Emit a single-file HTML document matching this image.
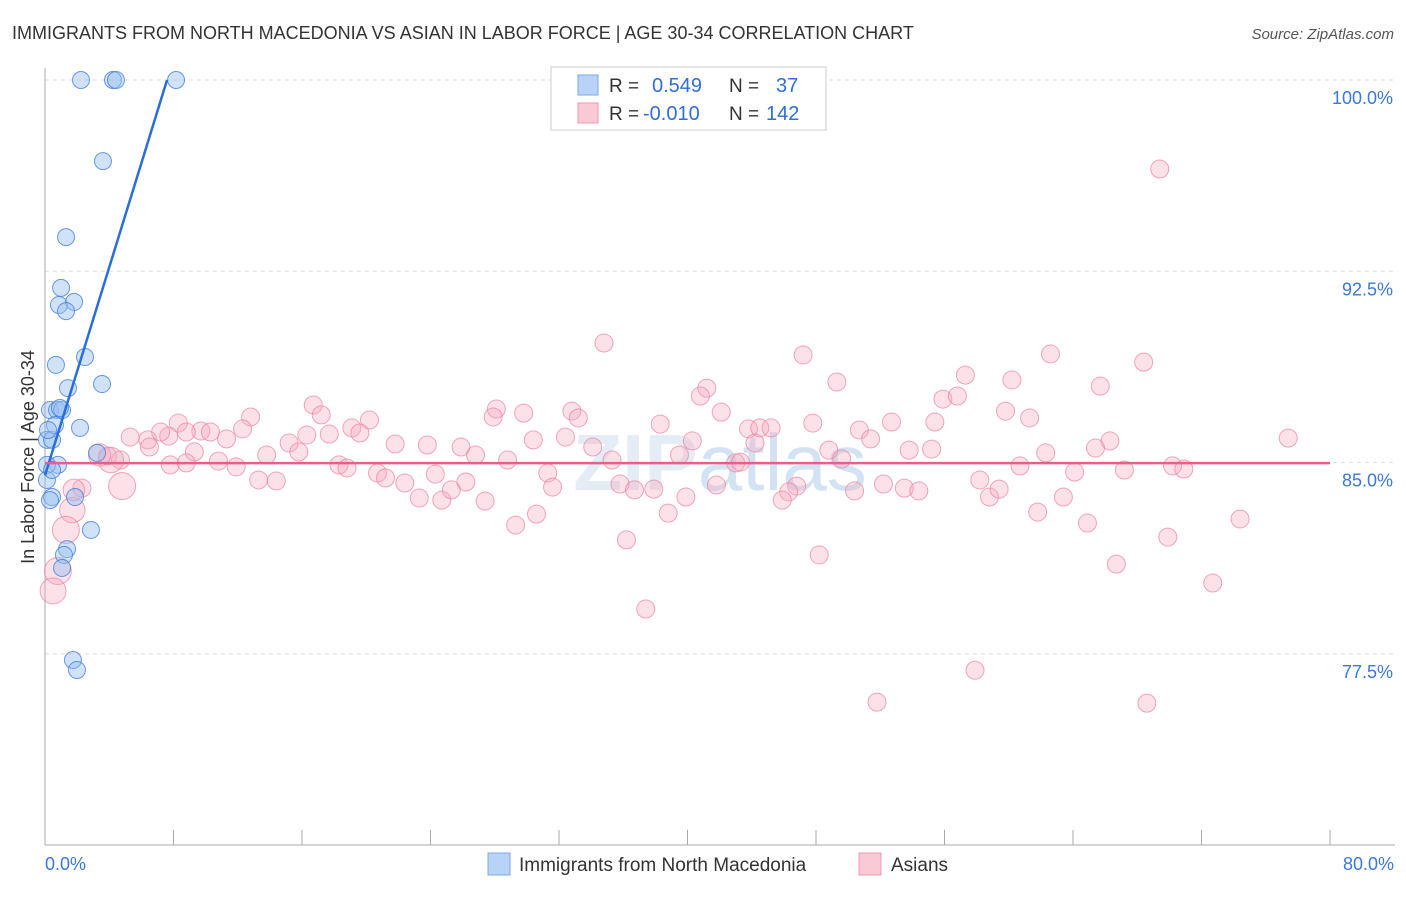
<!DOCTYPE html>
<html><head><meta charset="utf-8"><style>
body{margin:0;background:#fff;font-family:"Liberation Sans",sans-serif;}
svg text{font-family:"Liberation Sans",sans-serif;}
</style></head><body>
<svg id="chart" width="1406" height="892" xmlns="http://www.w3.org/2000/svg">
<text x="12" y="39" font-size="18" fill="#333">IMMIGRANTS FROM NORTH MACEDONIA VS ASIAN IN LABOR FORCE | AGE 30-34 CORRELATION CHART</text>
<text x="1394" y="39" font-size="15" fill="#555" text-anchor="end" font-style="italic">Source: ZipAtlas.com</text>
<text x="720" y="490" font-size="80" fill="#e4ecf5" text-anchor="middle" font-weight="bold">ZIP<tspan fill="#d4e3f3" font-weight="normal">atlas</tspan></text>
<g id="grid"></g>
<g id="axes"></g>
<g id="pink"></g>
<g id="blue"></g>
<g id="lines"></g>
<g>
<rect x="551" y="67" width="275" height="63" fill="#fff" stroke="#ccc"/>
<rect x="578" y="75" width="20" height="20" fill="#b8d3f5" stroke="#7aa8e6"/>
<rect x="578" y="103" width="20" height="20" fill="#f9c9d6" stroke="#ef9bb3"/>
<text x="609" y="92" font-size="19" fill="#333">R = </text><text x="652" y="92" font-size="20" fill="#2f6fd6">0.549</text>
<text x="729" y="92" font-size="19" fill="#333">N = </text><text x="776" y="92" font-size="20" fill="#2f6fd6">37</text>
<text x="609" y="120" font-size="19" fill="#333">R = </text><text x="643" y="120" font-size="20" fill="#2f6fd6">-0.010</text>
<text x="729" y="120" font-size="19" fill="#333">N = </text><text x="766" y="120" font-size="20" fill="#2f6fd6">142</text>
</g>
<g>
<rect x="488" y="853" width="22" height="22" fill="#b8d3f5" stroke="#7aa8e6"/>
<text x="519" y="871" font-size="19" fill="#333">Immigrants from North Macedonia</text>
<rect x="859" y="853" width="22" height="22" fill="#f9c9d6" stroke="#ef9bb3"/>
<text x="891" y="871" font-size="19" fill="#333">Asians</text>
</g>
<text transform="translate(34,457) rotate(-90)" font-size="18" fill="#333" text-anchor="middle">In Labor Force | Age 30-34</text>
</svg>
<script>
const yTicks=[100,92.5,85,77.5];
const yTickLabels=["100.0%","92.5%","85.0%","77.5%"];
const xTickLabels=["0.0%","80.0%"];
const blueX=[2.24,4.23,4.42,8.16,3.61,1.31,1.00,0.87,1.81,1.31,0.68,2.49,1.43,3.55,0.31,0.75,1.06,0.12,0.44,2.18,0.81,0.12,0.44,0.12,3.24,1.87,2.86,1.37,1.18,1.06,1.74,1.99,0.44,0.62,0.19,0.93,0.31];
const blueY=[100,100,100,100,96.82,93.84,91.85,91.18,91.30,90.94,88.83,89.14,87.92,88.08,87.06,87.06,87.06,85.89,85.89,86.36,84.91,84.91,83.65,84.32,85.38,83.65,82.36,81.61,81.38,80.87,77.26,76.87,84.71,86.47,86.28,87.14,83.53];
const pinkX=[69.4,34.8,62.6,47.2,68.4,49.3,57.3,41.2,60.2,65.7,40.8,55.9,56.8,16.7,28.1,17.2,29.8,32.8,42.1,12.8,8.3,20.2,27.9,59.8,33.2,38.3,47.8,52.7,61.3,19.1,9.7,10.3,12.3,16.3,17.7,19.6,43.8,44.5,45.2,50.7,55.4,77.4,5.3,6.4,7.7,8.8,11.3,15.2,21.8,23.8,30.4,32.4,34.1,40.3,44.2,51.4,66.3,53.8,55.2,65.4,62.3,25.9,26.8,15.8,13.8,9.3,3.9,4.7,7.8,8.8,10.8,11.9,18.3,18.8,28.8,35.3,39.5,48.8,49.6,43.0,43.3,60.7,64.1,67.2,70.2,70.9,20.7,21.2,22.4,24.3,26.2,31.3,31.6,35.8,36.7,37.9,39.9,41.8,46.8,46.3,45.9,50.4,52.2,53.5,54.4,58.2,58.8,59.4,63.4,23.3,24.7,25.3,27.4,30.6,29.3,38.8,61.8,64.9,74.4,36.2,69.9,48.2,66.7,72.7,37.4,57.9,51.8,68.6,13.3,14.4,6.5,7.2,2.3,1.7,1.3,0.8,0.5,4.8,1.8,4.1,3.4];
const pinkY=[96.51,89.69,89.26,89.22,88.94,88.16,88.43,87.92,88.24,88.0,87.61,87.49,87.61,87.26,87.1,86.87,86.94,87.02,86.98,86.79,86.55,86.67,86.79,87.02,86.75,86.51,86.55,86.59,86.75,86.36,86.24,86.20,86.32,86.08,86.12,86.16,86.32,86.36,86.36,86.28,86.59,85.96,86.00,85.89,86.04,86.20,85.93,85.77,85.73,85.69,85.89,86.00,85.61,85.85,85.77,85.93,85.85,85.49,85.53,85.57,85.38,85.61,85.30,85.42,85.30,85.42,85.26,85.10,84.91,84.99,85.06,84.83,84.91,84.79,85.10,85.10,85.30,85.49,85.14,84.99,85.02,84.87,84.63,84.71,84.87,84.75,84.59,84.40,84.20,84.55,84.24,84.59,84.04,84.16,83.93,83.96,83.65,84.12,84.08,83.85,83.53,83.89,84.16,84.00,83.89,84.32,83.65,83.96,83.65,83.61,83.53,83.93,83.49,82.98,82.55,83.02,83.06,82.63,82.79,81.97,82.08,81.38,81.02,80.28,79.26,76.86,75.61,75.57,84.32,84.28,85.61,86.20,84.00,83.14,82.36,80.75,79.97,84.08,83.93,85.10,85.30];
const pinkWeight=[];for(let i=0;i<pinkX.length;i++)pinkWeight.push(1);
[[133,2.2],[134,2.5],[135,2.5],[136,2.3],[137,2.5],[138,1.6],[139,2.2],[140,1.7],[141,1.5]].forEach(a=>pinkWeight[a[0]]=a[1]);
const blueFit=[84.5,2.04,0,7.6];
const pinkFit=[84.98,0,0,80];
const X=v=>45+v/80*1285, Y=v=>80+(100-v)/7.5*191.3;
const NS="http://www.w3.org/2000/svg";
function mk(t,p,parent){const e=document.createElementNS(NS,t);for(const k in p)e.setAttribute(k,p[k]);document.getElementById(parent).appendChild(e);return e;}
yTicks.forEach((v,i)=>{
 const g=mk('line',{x1:45,x2:1395,y1:Y(v),y2:Y(v),stroke:'#ddd','stroke-dasharray':'4,4'},'grid');
 
 
 const t=mk('text',{x:1393,y:Y(v)+24,'font-size':18,fill:'#3b78d8','text-anchor':'end'},'axes');
 t.textContent=yTickLabels[i];
 
 
});
let a=mk('line',{x1:45,x2:45,y1:68,y2:845,stroke:'#aaa'},'axes');


a=mk('line',{x1:45,x2:1395,y1:845,y2:845,stroke:'#aaa'},'axes');


for(let i=0;i<=10;i++){const t=mk('line',{x1:X(i*8),x2:X(i*8),y1:830,y2:845,stroke:'#aaa'},'axes');
 
 }
[[0,'start',45],[80,'end',1394]].forEach((d,i)=>{const t=mk('text',{x:d[2],y:870,'font-size':18,fill:'#3b78d8','text-anchor':d[1]},'axes');t.textContent=xTickLabels[i];
 
 });
pinkX.forEach((x,i)=>{const c=mk('circle',{cx:X(x),cy:Y(pinkY[i]),r:9*Math.sqrt(pinkWeight[i])*(pinkWeight[i]>1?0.95:1),fill:'rgba(246,170,192,0.35)',stroke:'rgba(236,130,160,0.7)','stroke-width':1},'pink');
 
 });
blueX.forEach((x,i)=>{const c=mk('circle',{cx:X(x),cy:Y(blueY[i]),r:8.5,fill:'rgba(150,190,240,0.45)',stroke:'rgba(60,120,220,0.75)','stroke-width':1},'blue');
 
 });
let l=mk('line',{x1:X(blueFit[2]),y1:Y(blueFit[0]+blueFit[1]*blueFit[2]),x2:X(blueFit[3]),y2:Y(blueFit[0]+blueFit[1]*blueFit[3]),stroke:'#2a6ed8','stroke-width':2.5},'lines');


l=mk('line',{x1:X(pinkFit[2]),y1:Y(pinkFit[0]),x2:X(pinkFit[3]),y2:Y(pinkFit[0]+pinkFit[1]*pinkFit[3]),stroke:'#e8608a','stroke-width':2.5},'lines');


</script>
</body></html>
